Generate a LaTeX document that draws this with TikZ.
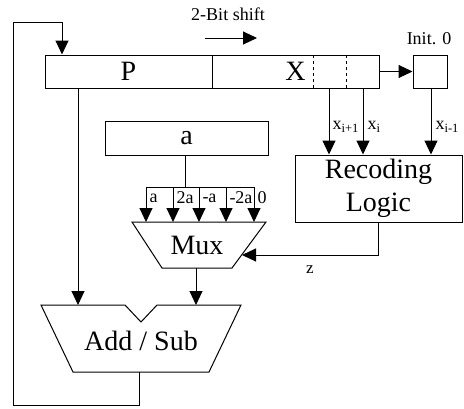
\documentclass[tikz,border=0pt]{standalone}
\usepackage{fontspec}
\setmainfont{Liberation Serif}
\usetikzlibrary{arrows.meta,positioning}
\tikzset{
  every picture/.style={line width=1pt},
  dp box/.style={draw, rectangle, inner sep=0pt, font=\fontsize{28}{30}\selectfont},
  dp text/.style={inner sep=0pt, font=\fontsize{28}{30}\selectfont},
  dp arrow/.style={-{Triangle[length=14pt,width=13pt]}},
  dp tap/.style={draw, dashed, line width=0.7pt},
  dp label/.style={inner sep=0pt, font=\fontsize{18}{20}\selectfont},
  dp small/.style={inner sep=0pt, font=\fontsize{17}{18}\selectfont}
}

\begin{document}
\begin{tikzpicture}[x=1pt,y=-1pt]
  \useasboundingbox (0,0) rectangle (464,408);
  % register P | X and the extra bit
  \node[dp box, minimum width=167pt, minimum height=33pt] (P) at (128.5,71.5) {P};
  \node[dp box, minimum width=167pt, minimum height=33pt] (X) at (295.5,71.5) {X};
  \node[dp box, minimum width=34pt, minimum height=33pt] (init) at (430,71.5) {};
  \draw[dp tap] (313,55) -- (313,88);
  \draw[dp tap] (346,55) -- (346,88);
  \node[dp label] (initlbl) at (429,39) {Init. 0};
  % shift direction
  \coordinate (sh0) at (205,38);
  \coordinate (sh1) at (257,38);
  \draw[dp arrow] (sh0) -- (sh1);
  \node[dp label] (shlbl) at (228,14) {2-Bit shift};
  % multiplicand and recoder
  \node[dp box, minimum width=163pt, minimum height=34pt] (a) at (186.5,138) {a};
  \node[dp box, minimum width=167pt, minimum height=67pt, align=center,
    font=\fontsize{28}{33}\selectfont] (rec) at (378.5,188.5) {Recoding\\Logic};
  % multiplexer
  \draw (132,222) -- (266,222) -- (232,268) -- (162,268) -- cycle;
  \node[dp text] (mux) at (197,245) {Mux};
  \coordinate (muxin) at (242,255);
  \coordinate (muxout) at (196,268);
  % adder / subtractor
  \draw (41,305) -- (125,305) -- (141,322) -- (157,305) -- (241,305)
    -- (209,372) -- (73,372) -- cycle;
  \node[dp text] (add) at (141,341) {Add / Sub};
  \coordinate (addout) at (139,372);
  % bit taps to the recoder
  \coordinate (xa) at (329,88);
  \coordinate (xb) at (363,88);
  \coordinate (xc) at (431,88);
  \draw[dp arrow] (xa) -- (xa |- rec.north);
  \draw[dp arrow] (xb) -- (xb |- rec.north);
  \draw[dp arrow] (init.south -| xc) -- (xc |- rec.north);
  \node[dp label, anchor=west] (xalbl) at (332,127) {x\textsubscript{i+1}};
  \node[dp label, anchor=west] (xblbl) at (367,127) {x\textsubscript{i}};
  \node[dp label, anchor=west] (xclbl) at (435,127) {x\textsubscript{i-1}};
  \draw[dp arrow] (X.east) -- (init.west);
  % multiple bus into the mux
  \coordinate (bus) at (185,187);
  \draw (a.south -| bus) -- (bus);
  \draw (146,187) -- (254,187);
  \foreach \xx/\lbl in {146/a, 173/2a, 199/-a, 226/-2a, 254/0}{
    \draw[dp arrow] (\xx,187) -- (\xx,222);
    \node[dp label, anchor=west] at (\xx+3,198) {\lbl};
  }
  % select from the recoder
  \draw[dp arrow] (rec.south) -- (rec.south |- muxin) -- (muxin);
  \node[dp small] (zlbl) at (310,270) {z};
  % into the adder
  \draw[dp arrow] (P.south -| 78,0) -- (78,305);
  \draw[dp arrow] (muxout) -- (196,305);
  % feedback of the sum into P
  \draw[dp arrow] (addout) -- (139,405) -- (13,405) -- (13,22) -- (62,22)
    -- (P.north -| 62,0);
\end{tikzpicture}
\end{document}
